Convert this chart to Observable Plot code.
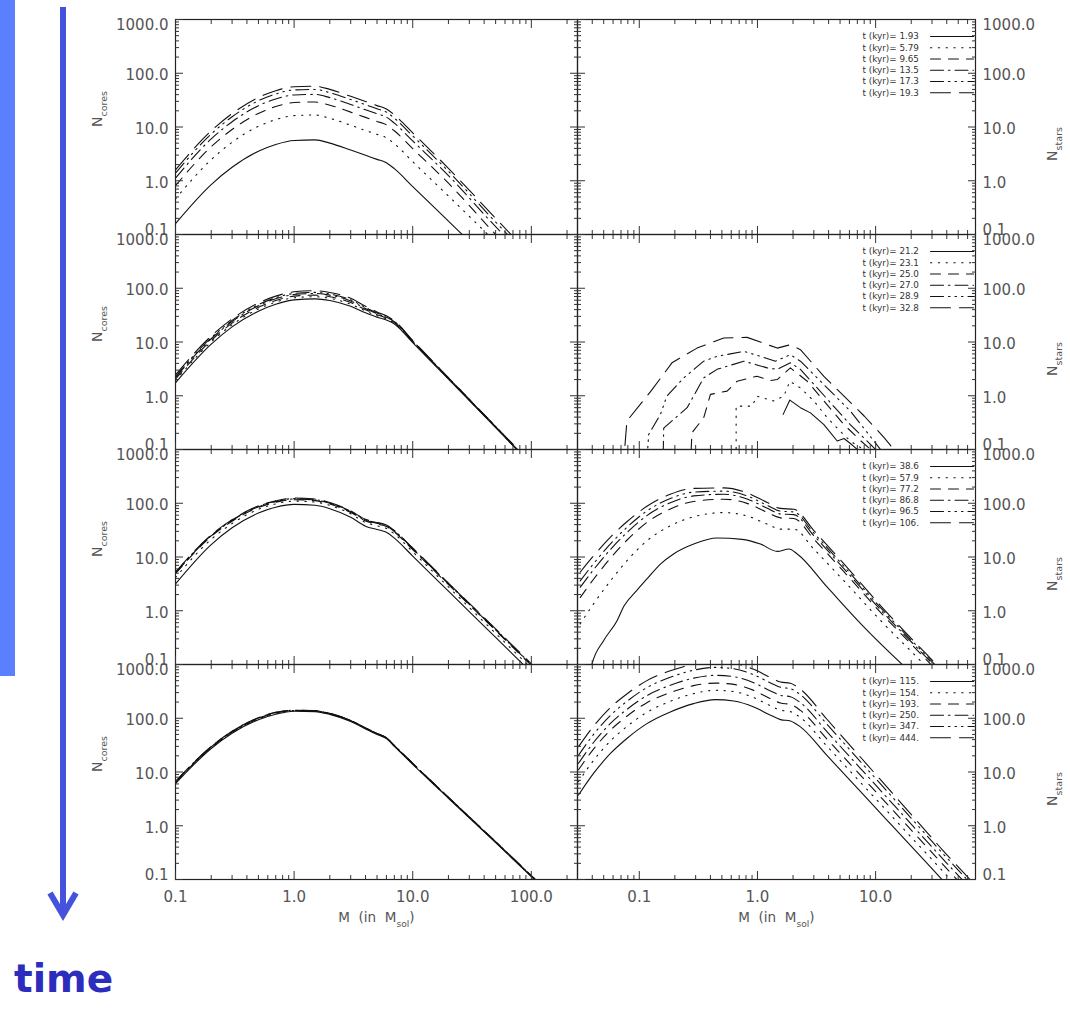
<!DOCTYPE html>
<html>
<head>
<meta charset="utf-8">
<script src="https://cdn.jsdelivr.net/npm/d3@7"></script>
<script src="https://cdn.jsdelivr.net/npm/@observablehq/plot@0.6"></script>
<style>
  html, body { margin: 0; padding: 0; background: #fff; }
  #root { position: relative; width: 1070px; height: 1011px; overflow: hidden; background: #fff; font-family: "DejaVu Sans", sans-serif; }
</style>
</head>
<body>
<div id="root">
  <svg id="deco" width="1070" height="1011" style="position:absolute;left:0;top:0">
    <rect x="0" y="0" width="15" height="676" fill="#5b80ff"></rect>
    <line x1="63" y1="7" x2="63" y2="913" stroke="#4452dc" stroke-width="6"></line>
    <polyline points="50,893 63,915 76,893" fill="none" stroke="#4452dc" stroke-width="6" stroke-linejoin="miter"></polyline>
    <text x="14" y="992" font-family="DejaVu Sans" font-weight="bold" font-size="39" fill="#2d2dbd">time</text>
  </svg>
</div>
<script>
// ---------------- data ----------------
const rowIds = [0, 1, 2, 3];
const timesRow0 = ["1.93", "5.79", "9.65", "13.5", "17.3", "19.3"];
const timesRow1 = ["21.2", "23.1", "25.0", "27.0", "28.9", "32.8"];
const timesRow2 = ["38.6", "57.9", "77.2", "86.8", "96.5", "106."];
const timesRow3 = ["115.", "154.", "193.", "250.", "347.", "444."];

// core mass function (left column), masses in Msol
const massCores = [0.1, 0.2, 0.3, 0.5, 0.7, 1, 1.5, 2, 3, 4, 5, 6, 7, 10, 20, 50, 100, 200];
const coresRow0 = [
  [0.16, 0.85, 1.78, 3.54, 4.73, 5.62, 5.75, 5.01, 3.72, 2.98, 2.50, 2.17, 1.68, 0.78, 0.178, 0.025, 0.006, 0.001],
  [0.46, 2.47, 5.2, 10.3, 13.7, 16.3, 16.7, 14.5, 10.8, 8.6, 7.3, 6.3, 4.9, 2.26, 0.52, 0.072, 0.016, 0.003],
  [0.81, 4.3, 9.0, 17.9, 24, 28.5, 29.2, 25.4, 18.9, 15.1, 12.7, 11.0, 8.5, 3.95, 0.90, 0.10, 0.02, 0.004],
  [1.12, 6.0, 12.5, 24.9, 33.3, 39.5, 40.4, 35.2, 26.2, 20.9, 17.6, 15.3, 11.8, 5.5, 1.25, 0.14, 0.03, 0.006],
  [1.39, 7.4, 15.5, 30.8, 41.2, 49, 50, 43.6, 32.4, 26, 21.8, 18.9, 14.6, 6.8, 1.5, 0.17, 0.035, 0.007],
  [1.6, 8.5, 17.8, 35.4, 47.3, 56.2, 57.5, 50.1, 37.2, 29.8, 25.0, 21.7, 16.8, 7.8, 1.7, 0.2, 0.04, 0.008]
];
const coresRow1 = [
  [1.74, 9.1, 19.1, 37.5, 50.5, 60.7, 63.5, 59.2, 46.1, 35.0, 29.0, 25.6, 21.6, 9.7, 2.05, 0.255, 0.052, 0.011],
  [1.91, 10.0, 20.9, 41.1, 55.3, 66.5, 69.6, 64.9, 50.5, 37.8, 30.7, 26.9, 22.5, 10.0, 2.09, 0.26, 0.053, 0.011],
  [2.04, 10.7, 22.4, 44.1, 59.3, 71.3, 74.6, 69.6, 54.2, 39.9, 32.2, 27.9, 23.1, 10.2, 2.11, 0.26, 0.053, 0.011],
  [2.19, 11.5, 24.0, 47.2, 63.6, 76.4, 79.9, 74.5, 58.0, 42.0, 33.6, 28.9, 23.8, 10.4, 2.13, 0.265, 0.054, 0.011],
  [2.29, 12.0, 25.2, 49.4, 66.6, 80.0, 83.7, 78.0, 60.8, 43.8, 34.8, 29.7, 24.2, 10.5, 2.15, 0.265, 0.054, 0.011],
  [2.46, 12.9, 27.0, 53.0, 71.4, 85.8, 89.7, 83.6, 65.1, 46.2, 36.3, 30.7, 24.8, 10.7, 2.17, 0.27, 0.055, 0.011]
];
const coresRow2 = [
  [3.15, 17.0, 34.9, 65.8, 84.5, 95.5, 91.6, 79.3, 54.8, 37.5, 32.4, 28.8, 22.4, 10.4, 2.31, 0.32, 0.071, 0.016],
  [4.16, 21.3, 41.9, 77.0, 97.2, 109.8, 105.3, 91.2, 63.6, 43.9, 38.2, 34.0, 26.9, 12.5, 2.77, 0.38, 0.085, 0.019],
  [4.88, 24.1, 46.4, 83.6, 103.9, 116.5, 111.8, 96.7, 67.4, 46.9, 41.1, 36.9, 29.1, 13.7, 3.07, 0.43, 0.096, 0.021],
  [5.03, 24.8, 47.8, 86.1, 107, 120, 115, 99.6, 69.4, 48.3, 42.3, 38.0, 30.0, 14.1, 3.16, 0.44, 0.099, 0.022],
  [5.12, 25.3, 48.7, 87.8, 109, 122, 117, 101.5, 70.8, 49.2, 43.2, 38.7, 30.6, 14.4, 3.22, 0.45, 0.10, 0.022],
  [5.22, 25.8, 49.6, 89.5, 111, 125, 120, 103.5, 72.1, 50.2, 44.0, 39.5, 31.1, 14.7, 3.28, 0.46, 0.103, 0.023]
];
const coresRow3 = [
  [6.1, 27.4, 52.6, 94, 119, 135, 133, 118, 87, 63.4, 50, 41.7, 29.9, 13.9, 3.24, 0.485, 0.113, 0.026],
  [6.28, 28.2, 54.2, 96.8, 122, 137.7, 135.7, 120.4, 88.7, 64.7, 51, 42.5, 30.5, 14.2, 3.30, 0.495, 0.115, 0.027],
  [6.4, 28.8, 55.2, 98.7, 125, 139, 137, 121.5, 89.6, 65.3, 51.5, 43.0, 30.8, 14.3, 3.34, 0.50, 0.116, 0.027],
  [6.53, 29.3, 56.3, 100.6, 127, 139.7, 137.7, 122.1, 90, 65.6, 51.8, 43.2, 30.9, 14.4, 3.35, 0.50, 0.117, 0.027],
  [6.59, 29.6, 56.8, 101.5, 128.5, 140.4, 138.3, 122.7, 90.5, 65.9, 52, 43.4, 31.1, 14.5, 3.37, 0.504, 0.118, 0.027],
  [6.65, 29.9, 57.3, 102.5, 129.7, 141, 139, 123.3, 90.9, 66.3, 52.3, 43.6, 31.2, 14.5, 3.39, 0.507, 0.118, 0.027]
];

// stellar mass function (right column), [mass, number] pairs for t = 21.2 ... 32.8 kyr
const starsRow1 = [
  [[1.65, 0.45], [1.88, 0.83], [2.31, 0.60], [2.81, 0.48], [3.65, 0.29], [4.73, 0.144], [5.4, 0.16], [6.34, 0.121], [7.0, 0.10], [8.0, 0.075]],
  [[0.66, 0.01], [0.66, 0.64], [0.9, 0.64], [0.99, 0.98], [1.37, 0.8], [1.67, 0.98], [1.88, 1.86], [2.31, 1.4], [3.0, 0.8], [3.9, 0.39], [5.0, 0.22], [6.1, 0.144], [7.9, 0.1], [9.5, 0.07]],
  [[0.262, 0.01], [0.279, 0.205], [0.351, 0.39], [0.40, 1.06], [0.553, 1.22], [0.673, 1.86], [0.99, 2.31], [1.29, 1.92], [1.47, 2.0], [1.9, 3.3], [2.64, 1.86], [3.65, 0.8], [5.4, 0.29], [7.5, 0.144], [9.1, 0.1], [11, 0.065]],
  [[0.156, 0.01], [0.161, 0.25], [0.254, 0.6], [0.351, 2.15], [0.455, 3.1], [0.766, 4.4], [1.21, 3.3], [1.47, 3.1], [1.9, 4.1], [2.31, 3.1], [3.2, 1.4], [6.1, 0.29], [10, 0.1], [12, 0.065]],
  [[0.110, 0.01], [0.12, 0.19], [0.151, 0.45], [0.171, 0.98], [0.238, 2.15], [0.351, 4.4], [0.455, 5.4], [0.766, 6.7], [1.06, 5.4], [1.42, 4.4], [1.9, 5.8], [2.31, 4.4], [3.2, 2.15], [6.1, 0.52], [11, 0.1], [13, 0.065]],
  [[0.069, 0.01], [0.0786, 0.34], [0.124, 1.18], [0.189, 4.1], [0.308, 7.7], [0.519, 11.9], [0.817, 12.2], [1.47, 7.7], [1.9, 8.9], [2.31, 7.2], [3.65, 2.3], [5.4, 0.98], [8.0, 0.42], [11.8, 0.166], [14.3, 0.1], [17, 0.065]]
];
// t = 38.6 kyr
const starsRow2Solid = [[0.037, 0.05], [0.0397, 0.1], [0.05, 0.28], [0.065, 0.66], [0.074, 1.21], [0.095, 2.37], [0.116, 3.9], [0.151, 7.4], [0.195, 11.4], [0.289, 17.4], [0.455, 22.5], [0.741, 21.3], [1.06, 17.4], [1.47, 12.7], [1.85, 14.1], [2.17, 11.4], [3.9, 2.74], [7.5, 0.57], [16.8, 0.1], [20, 0.07]];
// t = 57.9 ... 106 kyr
const massStarsRow2 = [0.0316, 0.041, 0.057, 0.0785, 0.116, 0.183, 0.288, 0.519, 0.817, 1.21, 1.57, 2.03, 3.0, 5.75, 11, 25.7, 30, 40];
const starsRow2 = [
  [0.57, 1.34, 3.6, 8.5, 20, 38, 56, 67, 58, 41, 33, 33, 14, 3.1, 0.66, 0.1, 0.07, 0.036],
  [1.76, 3.85, 9.5, 20.5, 44, 78, 108, 119, 99.5, 67.6, 53.5, 52.2, 21.5, 4.55, 0.93, 0.136, 0.095, 0.049],
  [2.73, 5.8, 13.8, 28.4, 58.9, 102, 137, 147, 120, 80.7, 63.2, 61.4, 25, 5.19, 1.04, 0.15, 0.105, 0.054],
  [3.6, 7.5, 17.5, 35.5, 71.9, 122, 161, 168, 137, 91.4, 71.3, 68.9, 27.9, 5.73, 1.14, 0.161, 0.113, 0.058],
  [5.2, 10.5, 23.4, 45.2, 87.9, 147, 189, 193, 156, 103, 80.2, 77.3, 31.1, 6.34, 1.25, 0.173, 0.122, 0.063]
];
// t = 115 ... 444 kyr
const massStarsRow3 = [0.0306, 0.041, 0.057, 0.0785, 0.116, 0.183, 0.288, 0.44, 0.63, 0.93, 1.29, 1.57, 1.9, 2.31, 3.89, 7.46, 14.3, 27.4, 36.7, 50, 80];
const starsRow3 = [
  [3.73, 9.4, 22.1, 42, 79.4, 131, 187, 222, 209, 162, 114, 94.4, 89.1, 69, 20.1, 4.3, 0.92, 0.197, 0.098, 0.047, 0.015],
  [6.64, 16.4, 37.8, 70.1, 129, 207, 287, 331, 313, 242, 170, 141, 133, 103, 29.9, 6.38, 1.36, 0.291, 0.146, 0.07, 0.023],
  [11.0, 26.7, 60.0, 109, 195, 301, 404, 451, 426, 330, 231, 192, 181, 140, 40.6, 8.67, 1.85, 0.394, 0.196, 0.094, 0.031],
  [14.5, 35.4, 80.0, 146, 264, 411, 557, 628, 593, 459, 322, 267, 252, 195, 55.6, 11.6, 2.41, 0.50, 0.247, 0.119, 0.039],
  [20.5, 50, 113, 206, 372, 579, 783, 883, 834, 646, 453, 376, 355, 275, 76.6, 15.5, 3.15, 0.638, 0.311, 0.15, 0.049],
  [29.6, 71.1, 158, 283, 501, 764, 1009, 1112, 1050, 813, 570, 473, 447, 346, 94.8, 18.8, 3.73, 0.74, 0.357, 0.172, 0.056]
];

// axis ticks
const yMajor = [0.1, 1, 10, 100, 1000];
const yMinor = [0.2, 0.3, 0.4, 0.5, 0.6, 0.7, 0.8, 0.9, 2, 3, 4, 5, 6, 7, 8, 9, 20, 30, 40, 50, 60, 70, 80, 90, 200, 300, 400, 500, 600, 700, 800, 900];
const xMajorCores = [0.1, 1, 10, 100];
const xMinorCores = [0.2, 0.3, 0.4, 0.5, 0.6, 0.7, 0.8, 0.9, 2, 3, 4, 5, 6, 7, 8, 9, 20, 30, 40, 50, 60, 70, 80, 90, 200];
const xMajorStars = [0.1, 1, 10];
const xMinorStars = [0.04, 0.05, 0.06, 0.07, 0.08, 0.09, 0.2, 0.3, 0.4, 0.5, 0.6, 0.7, 0.8, 0.9, 2, 3, 4, 5, 6, 7, 8, 9, 20, 30, 40, 50, 60];

// ---------------- tables ----------------
const coreTable = [coresRow0, coresRow1, coresRow2, coresRow3].flatMap((series, row) =>
  series.flatMap((vals, k) => vals.map((n, i) => ({row, k, m: massCores[i], n}))));
const starTableJagged = starsRow1.flatMap((pairs, k) => pairs.map(([m, n]) => ({row: 1, k, m, n})));
const starTableSmooth = [
  ...starsRow2Solid.map(([m, n]) => ({row: 2, k: 0, m, n})),
  ...starsRow2.flatMap((vals, j) => vals.map((n, i) => ({row: 2, k: j + 1, m: massStarsRow2[i], n}))),
  ...starsRow3.flatMap((vals, k) => vals.map((n, i) => ({row: 3, k, m: massStarsRow3[i], n})))
];
const legendTable = [timesRow0, timesRow1, timesRow2, timesRow3].flatMap((ts, row) => ts.map((t, k) => ({row, k, t})));

// ---------------- styles ----------------
const dashes = [null, "1.3,6.5", "10,8", "13,5,1.5,5", "13,5,1.5,5,1.5,5,1.5,5", "20,9"];
const fmt = d3.format(".1f");
const INK = "#111";
const TXT = "#555";
const FONT = "DejaVu Sans, sans-serif";

const lineMarks = (table, curve) => dashes.map((d, k) => Plot.line(table.filter(r => r.k === k), {
  x: "m", y: "n", fy: "row", stroke: INK, strokeWidth: 1.1, strokeDasharray: d, curve, clip: true
}));

function frameTicks(xMajor, xMinor) {
  const o = {tickFormat: () => "", fill: null, facetAnchor: null, label: null, stroke: "#333", strokeWidth: 1};
  return [
    Plot.axisX({...o, anchor: "bottom", ticks: xMajor, tickSize: -8}),
    Plot.axisX({...o, anchor: "bottom", ticks: xMinor, tickSize: -4}),
    Plot.axisX({...o, anchor: "top", ticks: xMajor, tickSize: -8}),
    Plot.axisX({...o, anchor: "top", ticks: xMinor, tickSize: -4}),
    Plot.axisY({...o, anchor: "left", ticks: yMajor, tickSize: -8}),
    Plot.axisY({...o, anchor: "left", ticks: yMinor, tickSize: -4}),
    Plot.axisY({...o, anchor: "right", ticks: yMajor, tickSize: -8}),
    Plot.axisY({...o, anchor: "right", ticks: yMinor, tickSize: -4})
  ];
}

const yLabels = (anchor) => [
  {ticks: [1000], dy: 6},
  {ticks: [1, 10, 100], dy: 2},
  {ticks: [0.1], dy: -4}
].map(({ticks, dy}) => Plot.axisY({
  anchor, ticks, dy, tickSize: 0, tickPadding: 7, tickFormat: fmt,
  fill: TXT, fontSize: 15, facetAnchor: null, label: null
}));

const xLabels = (ticks) => Plot.axisX({
  anchor: "bottom", ticks, tickSize: 0, tickPadding: 12, tickFormat: fmt, fill: TXT, fontSize: 15, label: null
});

const massLabel = Plot.text([3], {
  fy: d => d, text: () => "M  (in  M_{sol})", frameAnchor: "bottom", dy: 38.5,
  lineAnchor: "middle", fontSize: 13.5, fill: TXT
});

const lineShape = {draw(context, l) { context.moveTo(0, 0); context.lineTo(0, -l); }};
const legendMarks = dashes.flatMap((d, k) => [
  Plot.text(legendTable.filter(e => e.k === k), {
    fy: "row", text: e => `t (kyr)= ${e.t}`, frameAnchor: "top-right", dx: -113, dy: 17 + 11.25 * k,
    textAnchor: "start", lineAnchor: "middle", fontSize: 8.8, fill: "#333"
  }),
  Plot.vector(legendTable.filter(e => e.k === k), {
    fy: "row", frameAnchor: "top-right", dx: -45, dy: 17 + 11.25 * k, length: 43, rotate: 90,
    anchor: "start", shape: lineShape, stroke: INK, strokeWidth: 1.1, strokeDasharray: d
  })
]);

const common = {
  height: 940, marginTop: 17, marginBottom: 60,
  y: {type: "log", domain: [0.1, 1000], label: null},
  fy: {domain: rowIds, padding: 0, axis: null, label: null},
  style: {background: "transparent", overflow: "visible", fontFamily: FONT, fontSize: "15px", color: "#222"}
};

const leftPlot = Plot.plot({
  ...common,
  width: 587, marginLeft: 175, marginRight: 10,
  x: {type: "log", domain: [0.1, 245], label: null},
  marks: [
    ...lineMarks(coreTable, "monotone-x"),
    Plot.frame({stroke: "#222", strokeWidth: 1.2}),
    ...frameTicks(xMajorCores, xMinorCores),
    ...yLabels("left"),
    xLabels(xMajorCores),
    Plot.text(rowIds, {fy: d => d, text: () => "N_{cores}", frameAnchor: "left", dx: -77.5, rotate: -90, fontSize: 14, fill: TXT}),
    massLabel
  ]
});

const rightPlot = Plot.plot({
  ...common,
  width: 503, marginLeft: 10, marginRight: 95,
  x: {type: "log", domain: [0.03, 70], label: null},
  marks: [
    ...lineMarks(starTableJagged, "linear"),
    ...lineMarks(starTableSmooth, "monotone-x"),
    Plot.frame({stroke: "#222", strokeWidth: 1.2}),
    ...frameTicks(xMajorStars, xMinorStars),
    ...yLabels("right"),
    xLabels(xMajorStars),
    ...legendMarks,
    Plot.text(rowIds, {fy: d => d, text: () => "N_{stars}", frameAnchor: "right", dx: 77, rotate: -90, fontSize: 14, fill: TXT}),
    massLabel
  ]
});

// turn "A_{b}c" into real subscripts
function subscripts(svg) {
  const NS = "http://www.w3.org/2000/svg";
  svg.querySelectorAll("text").forEach(t => {
    const s = t.textContent;
    const m = s.match(/^(.*)_\{(.*?)\}(.*)$/);
    if (!m) return;
    t.textContent = "";
    const a = document.createElementNS(NS, "tspan"); a.textContent = m[1]; t.appendChild(a);
    const b = document.createElementNS(NS, "tspan"); b.textContent = m[2];
    b.setAttribute("font-size", "0.68em"); b.setAttribute("dy", "0.5em"); t.appendChild(b);
    if (m[3]) {
      const c = document.createElementNS(NS, "tspan"); c.textContent = m[3];
      c.setAttribute("dy", "-0.34em"); t.appendChild(c);
    }
  });
}

const root = document.getElementById("root");
for (const [svg, left] of [[leftPlot, 0], [rightPlot, 567]]) {
  subscripts(svg);
  svg.style.position = "absolute";
  svg.style.left = left + "px";
  svg.style.top = "0px";
  root.appendChild(svg);
}
</script>
</body>
</html>
